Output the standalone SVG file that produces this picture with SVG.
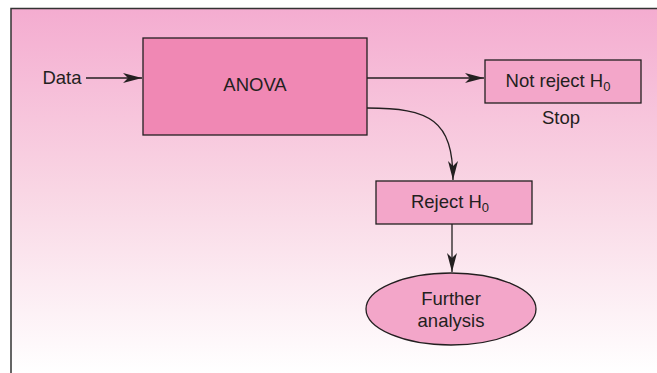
<svg xmlns="http://www.w3.org/2000/svg" width="657" height="373" viewBox="0 0 657 373">
<style>
.t{font-family:"Liberation Sans",Arial,sans-serif;font-size:18.5px;fill:#231f20;text-anchor:middle}
.box{stroke:#231f20;stroke-width:1.3}
.c{fill:none;stroke:#231f20;stroke-width:1.3}
</style>
<defs>
<linearGradient id="bg" x1="0" y1="0" x2="0" y2="1">
<stop offset="0" stop-color="#f4acd0"/>
<stop offset="0.5" stop-color="#f9d6e4"/>
<stop offset="1" stop-color="#ffffff"/>
</linearGradient>
<marker id="ah" markerWidth="20" markerHeight="12" refX="19" refY="5" orient="auto" markerUnits="userSpaceOnUse">
<path d="M0,0 L19,5 L0,10 L5,5 Z" fill="#231f20"/>
</marker>
</defs>
<rect x="11" y="8" width="646" height="365" fill="url(#bg)"/>
<path d="M11,373 V8.5 H657" fill="none" stroke="#333" stroke-width="1.5"/>
<g id="data"><text class="t" x="62" y="84">Data</text></g>
<g id="anova"><rect class="box" x="143" y="38" width="224" height="97" fill="#f088b4"/><text class="t" x="255" y="91">ANOVA</text></g>
<g id="notreject"><rect class="box" x="485" y="60" width="156" height="43" fill="#f3a6c9"/><text class="t" x="558" y="87">Not reject H<tspan font-size="13" dy="4">0</tspan></text><text class="t" x="561" y="124">Stop</text></g>
<g id="reject"><rect class="box" x="376" y="181" width="156" height="43" fill="#f3a6c9"/><text class="t" x="450" y="208">Reject H<tspan font-size="13" dy="4">0</tspan></text></g>
<g id="further"><ellipse class="box" cx="451" cy="309" rx="85" ry="36" fill="#f3a6c9"/><text class="t" x="451" y="305">Further</text><text class="t" x="451" y="327">analysis</text></g>
<g id="connectors">
<path class="c" d="M86,78 H142" marker-end="url(#ah)"/>
<path class="c" d="M367,78 H484" marker-end="url(#ah)"/>
<path class="c" d="M367,108 C430,108 453,120 453,180" marker-end="url(#ah)"/>
<path class="c" d="M452,224 V272" marker-end="url(#ah)"/>
</g>
</svg>
